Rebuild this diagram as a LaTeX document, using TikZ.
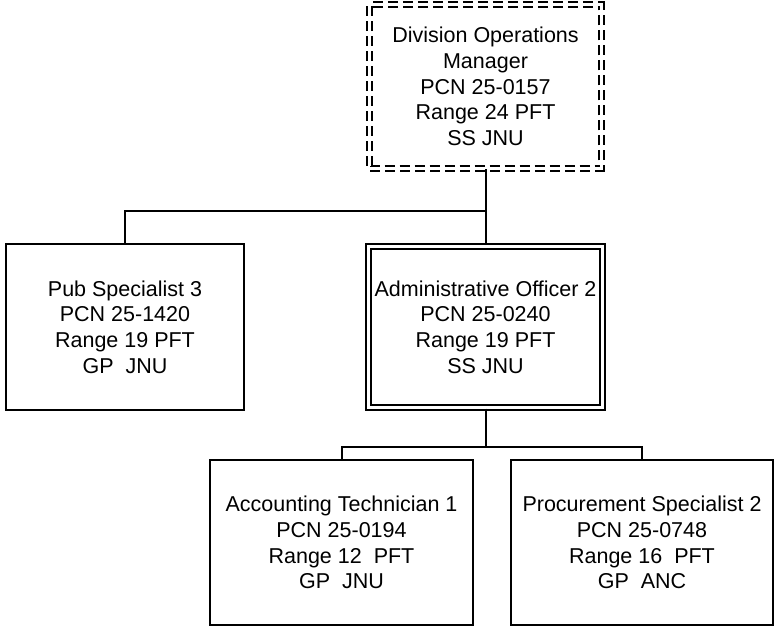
\documentclass[tikz,border=0pt]{standalone}
\usepackage{fontspec}
\setmainfont{Liberation Sans}
\begin{document}
\begin{tikzpicture}[x=1pt,y=-1pt,
  every node/.style={font=\fontsize{21.5}{25.7}\selectfont, align=center, inner sep=0pt},
  posbox/.style={draw, line width=2pt, rectangle},
  dblbox/.style={draw, line width=1.8pt, double, double distance=3pt, rectangle},
  dashbox/.style={draw, line width=1.8pt, double, double distance=3.5pt, dash pattern=on 10pt off 5pt, rectangle},
  conn/.style={line width=2pt}]
\useasboundingbox (0,0) rectangle (775,628);
\node[dashbox, minimum width=232pt, minimum height=164pt] (dom) at (485.5,86.5)
  {Division Operations\\Manager\\PCN 25-0157\\Range 24 PFT\\SS JNU};
\node[posbox, minimum width=238pt, minimum height=166pt] (pub) at (125,327)
  {Pub Specialist 3\\PCN 25-1420\\Range 19 PFT\\GP\ \ JNU};
\node[dblbox, minimum width=234.5pt, minimum height=161.5pt] (admin) at (485.5,327)
  {Administrative Officer 2\\PCN 25-0240\\Range 19 PFT\\SS JNU};
\node[posbox, minimum width=263pt, minimum height=165pt] (acct) at (341.5,542.5)
  {Accounting Technician 1\\PCN 25-0194\\Range 12\ \ PFT\\GP\ \ JNU};
\node[posbox, minimum width=262pt, minimum height=165pt] (proc) at (642,542.5)
  {Procurement Specialist 2\\PCN 25-0748\\Range 16\ \ PFT\\GP\ \ ANC};
\coordinate (j1) at (485.5,211);
\coordinate (j2) at (485.5,447);
\draw[conn] (dom.south) -- (admin.north);
\draw[conn] (pub.north) |- (j1);
\draw[conn] (admin.south) -- (j2);
\draw[conn] (acct.north) |- (j2);
\draw[conn] (proc.north) |- (j2);
\end{tikzpicture}
\end{document}
